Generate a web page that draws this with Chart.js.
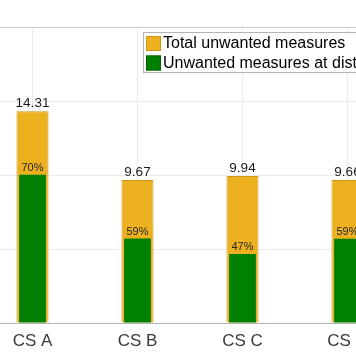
<!DOCTYPE html>
<html>
<head>
<meta charset="utf-8">
<script src="https://cdn.jsdelivr.net/npm/chart.js@4.4.1/dist/chart.umd.min.js"></script>
<style>
  html, body { margin: 0; padding: 0; background: #fff; overflow: hidden; width: 356px; height: 364px; }
  #wrap { position: absolute; left: -20px; top: 0; width: 420px; height: 364px; }
</style>
</head>
<body>
<div id="wrap"><canvas id="c" width="420" height="364"></canvas></div>
<script>
const categories = ['CS A', 'CS B', 'CS C', 'CS D'];
const totalValues = [14.31, 9.67, 9.94, 9.66];
const sharePercent = [70, 59, 47, 59];
const distValues = [10.02, 5.71, 4.67, 5.70];
const seriesLabels = ['Total unwanted measures', 'Unwanted measures at distribution level'];
const yTicks = [0, 5, 10, 15, 20];

const ORANGE = '#EDB120';
const GREEN = '#008000';
const FONT = "'Liberation Sans', Arial, Helvetica, sans-serif";

const labelPlugin = {
  id: 'labels',
  afterDatasetsDraw(chart) {
    const ctx = chart.ctx;
    ctx.save();
    const metaT = chart.getDatasetMeta(0);
    const metaD = chart.getDatasetMeta(1);
    ctx.textAlign = 'center';
    ctx.textBaseline = 'bottom';
    metaT.data.forEach((bar, i) => {
      ctx.fillStyle = '#1a1a1a';
      ctx.font = '13.5px ' + FONT;
      ctx.fillText(totalValues[i].toFixed(2), bar.x, bar.y - 1);
    });
    metaD.data.forEach((bar, i) => {
      ctx.fillStyle = '#262626';
      ctx.font = '11px ' + FONT;
      ctx.fillText(sharePercent[i] + '%', bar.x, bar.y - 1);
    });
    // legend box
    const lx = 163, ly = 32, lw = 270, lh = 40;
    ctx.fillStyle = '#ffffff';
    ctx.fillRect(lx, ly, lw, lh);
    ctx.strokeStyle = '#b4b4b4';
    ctx.lineWidth = 1;
    ctx.strokeRect(lx + 0.5, ly + 0.5, lw, lh);
    const colors = [ORANGE, GREEN];
    const borders = ['#c9961a', '#006000'];
    ctx.textAlign = 'left';
    ctx.textBaseline = 'middle';
    ctx.font = '16px ' + FONT;
    seriesLabels.forEach((t, i) => {
      const sy = ly + 4 + i * 19.5;
      ctx.fillStyle = colors[i];
      ctx.fillRect(lx + 3, sy, 15, 15);
      ctx.strokeStyle = borders[i];
      ctx.strokeRect(lx + 3.5, sy + 0.5, 14, 14);
      ctx.fillStyle = '#000000';
      ctx.fillText(t, lx + 20, sy + 8);
    });
    ctx.restore();
  }
};

new Chart(document.getElementById('c'), {
  type: 'bar',
  data: {
    labels: categories,
    datasets: [
      {
        label: seriesLabels[0],
        data: totalValues,
        backgroundColor: ORANGE,
        borderColor: '#c9961a',
        borderWidth: 1,
        barPercentage: 0.305,
        categoryPercentage: 1,
        order: 2
      },
      {
        label: seriesLabels[1],
        data: distValues,
        backgroundColor: GREEN,
        borderWidth: 0,
        barPercentage: 0.255,
        categoryPercentage: 1,
        order: 1
      }
    ]
  },
  options: {
    responsive: false,
    animation: false,
    devicePixelRatio: 1,
    layout: { padding: { top: 27, left: 0, right: 0, bottom: 0 } },
    plugins: { legend: { display: false }, tooltip: { enabled: false } },
    scales: {
      x: {
        stacked: true,
        offset: true,
        grid: { offset: false, color: '#ebebeb', drawTicks: false },
        border: { color: '#b4b4b4' },
        ticks: { color: '#3a3a3a', font: { family: FONT, size: 17 }, padding: 8 },
        afterFit(s) { s.height = 41; }
      },
      y: {
        stacked: false,
        min: 0,
        max: 20,
        afterBuildTicks(s) { s.ticks = yTicks.map(v => ({ value: v })); },
        ticks: { display: false },
        grid: { drawTicks: false, color: ctx => (ctx.tick && ctx.tick.value === 20) ? '#c8c8c8' : '#ebebeb' },
        border: { display: false },
        afterFit(s) { s.width = 0; }
      }
    }
  },
  plugins: [labelPlugin]
});
</script>
</body>
</html>
